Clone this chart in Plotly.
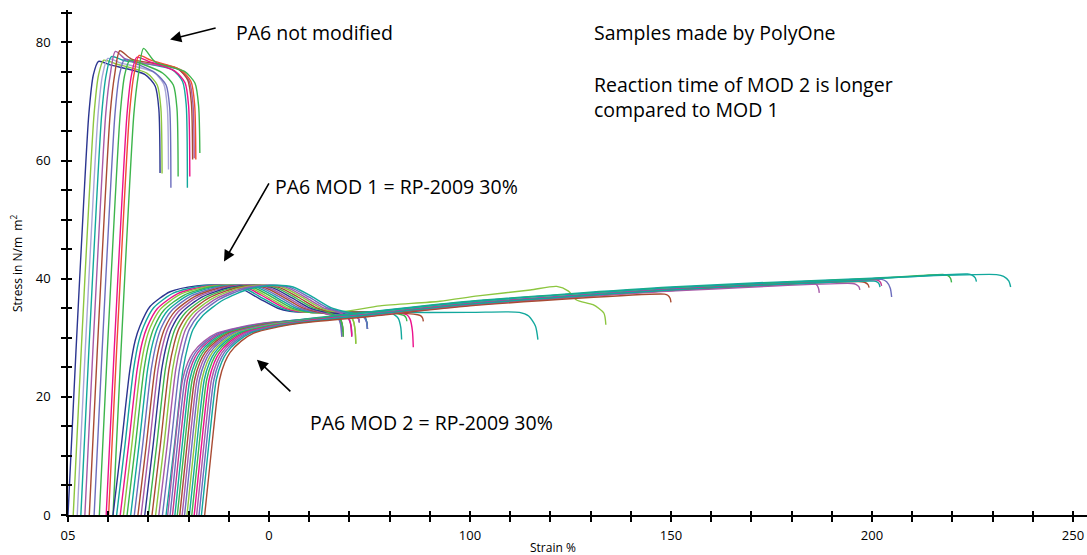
import plotly.graph_objects as go

# ---------------- palette ----------------
DB = "#2b3590"; YG = "#8cc63f"; LV = "#a9a6d8"; TL = "#12a89d"; PU = "#a65aa8"
BR = "#a94b33"; SL = "#6c6dbd"; GR = "#3db54b"; MG = "#ec118c"; RD = "#f04e31"

# ---------------- axis ticks ----------------
X_TICKS = [0, 10, 20, 30, 40, 50, 60, 70, 80, 90, 100, 110, 120, 130, 140, 150,
           160, 170, 180, 190, 200, 210, 220, 230, 240, 250]
X_LABELS = {0: "05", 50: "0", 100: "100", 150: "150", 200: "200", 250: "250"}
Y_TICKS = [0, 5, 10, 15, 20, 25, 30, 35, 40, 45, 50, 55, 60, 65, 70, 75, 80, 85]
Y_LABELS = {0: "0", 20: "20", 40: "40", 60: "60", 80: "80"}

# ---------------- group 1 : PA6 not modified ----------------
G1_COLORS = [DB, YG, LV, TL, PU, BR, SL, GR, MG, RD, GR]
G1_START = [0.0, 1.3, 2.3, 3.2, 4.2, 5.3, 6.5, 7.8, 9.5, 10.1, 11.2]
G1_PEAK = [76.8, 77.0, 77.3, 77.6, 78.5, 78.6, 77.2, 77.0, 77.5, 77.8, 79.0]
G1_PLAT = [76.2, 76.4, 76.6, 77.0, 77.0, 77.2, 76.4, 76.4, 76.8, 77.0, 76.7]
G1_BREAK = [22.9, 23.4, 25.0, 29.7, 31.4, 31.0, 25.6, 27.4, 30.3, 31.8, 32.8]
G1_END = [57.9, 57.8, 58.5, 55.4, 60.4, 60.2, 55.4, 57.3, 57.3, 60.2, 61.3]
G1_RISE_DX = [0.0, 2.0, 3.9, 5.2, 6.3]
G1_RISE_Y = [0.0, 28.0, 53.0, 68.0, 74.5]
G1_PEAK_DX = 7.6
G1_PLAT_DX = 10.5
G1_TAIL_DX = [-3.8, -1.2, -0.3]
G1_TAIL_DY = [-1.6, -3.6, -7.5]

# ---------------- group 2 : PA6 MOD 1 ----------------
G2_COLORS = [DB, TL, MG, YG, GR, TL, SL, BR, PU, DB, GR, BR, YG, PU, SL, TL]
G2_START = [11.2, 12.1, 13.0, 13.8, 14.7, 15.6, 16.5, 17.4, 18.2, 19.1, 20.0,
            20.9, 21.8, 22.6, 23.5, 24.4]
G2_SOFT = [0.0, 0.15, 0.25, 0.3, 0.4, 0.45, 0.5, 0.55, 0.6, 0.65, 0.7, 0.75,
           0.8, 0.85, 0.9, 1.0]
G2_BREAK = [74.5, 83.0, 85.9, 71.6, 84.3, 116.9, 70.6, 68.5, 68.1, 72.5, 68.3,
            88.4, None, 70.6, 72.5, 74.5]
G2_KNEE = [33.9, 33.8, 33.9, 33.6, 33.9, 34.3, 33.5, 33.5, 33.5, 33.7, 33.5,
           33.9, None, 33.6, 33.7, 33.9]
G2_END = [31.5, 29.7, 28.4, 29.0, 32.8, 29.7, 30.2, 30.2, 30.2, 32.6, 31.0,
          32.8, None, 30.5, 32.6, 31.5]
G2_HOOKW = [1.4, 1.6, 1.6, 1.3, 1.3, 4.6, 1.3, 1.2, 1.2, 1.2, 1.2, 1.4, None,
            1.2, 1.2, 1.4]
G2_RISE_DX = [0.0, 2.1, 4.2, 5.5, 6.7, 9.2, 14.2, 20.8, 27.0, 31.6, 36.5, 41.0, 44.0]
G2_STIFF_Y = [0.0, 12.0, 24.6, 29.5, 32.0, 35.3, 37.8, 38.8, 38.9, 38.4, 36.6, 35.0, 34.5]
G2_SOFTY = [0.0, 12.0, 24.6, 28.8, 31.4, 33.8, 36.4, 38.3, 38.9, 38.6, 36.9, 35.1, 34.5]
G2_FLAT_X = [60.0, 80.0, 100.0]
G2_FLAT_Y = [34.3, 34.3, 34.3]
# the strain-hardening sample of MOD 1 (yellow-green)
G2_SPECIAL_X = [69.3, 77.6, 92.5, 102.0, 115.0, 121.6, 124.5, 126.5, 130.6, 133.3, 133.8]
G2_SPECIAL_Y = [34.5, 35.4, 36.2, 37.1, 38.1, 38.7, 37.9, 36.4, 35.6, 34.2, 32.2]

# ---------------- group 3 : PA6 MOD 2 ----------------
G3_COLORS = [PU, SL, "#c2378f", TL, GR, BR, PU, SL, YG, TL, GR, MG, PU, SL, TL, BR]
G3_START = [24.8, 25.4, 26.0, 26.6, 27.2, 27.8, 28.4, 29.0, 29.6, 30.2, 30.8,
            31.4, 32.0, 32.6, 33.2, 34.0]
G3_LEV = [-0.1, 0.2, 0.1, 0.5, 0.4, -0.1, -0.2, -0.3, -0.4, 0.4, -0.3, -0.4,
          -0.3, -0.2, 0.0, -0.3]
G3_BREAK = [186.9, 204.9, 202.4, 234.5, 219.8, 199.3, 197.0, 68.1, 71.6, 226.0,
            68.5, 70.6, 72.5, 74.5, 202.0, 150.0]
G3_KNEE = [39.3, 39.9, 39.8, 40.7, 40.7, 39.5, 39.2, 33.4, 33.5, 40.8, 33.4,
           33.5, 33.6, 33.6, 39.6, 37.4]
G3_END = [37.6, 36.9, 38.8, 38.6, 39.4, 38.5, 38.1, 30.2, 29.0, 39.5, 30.2,
          30.2, 32.6, 31.5, 38.6, 36.0]
G3_HOOKW = [1.6, 2.5, 1.5, 3.5, 1.8, 2.0, 2.0, 1.2, 1.3, 2.2, 1.2, 1.3, 1.2,
            1.4, 1.5, 1.6]
G3_RISE_DX = [0.0, 2.2, 3.7, 5.0, 6.3, 9.0, 12.2, 18.0, 24.0]
G3_RISE_Y = [0.0, 14.4, 22.9, 25.8, 27.5, 29.4, 30.8, 31.8, 32.5]
G3_TAIL_X = [75.0, 100.0, 150.0, 200.0, 240.0]
G3_TAIL_Y = [33.9, 35.7, 38.1, 39.6, 40.7]

# shape of the small hook at fracture (fractions of hook width / drop)
HOOK_FX = [1.0, 0.5, 0.134, 0.0]
HOOK_FY = [0.0, 0.134, 0.5, 1.0]


def add_hook(xs, ys, sb, kn, yb, w):
    for fx, fy in zip(HOOK_FX, HOOK_FY):
        xs.append(sb - fx * w)
        ys.append(kn - fy * (kn - yb))


traces = []


def line(xs, ys, color):
    traces.append(go.Scatter(x=xs, y=ys, mode="lines",
                             line=dict(color=color, width=1.4, shape="spline", smoothing=0.7),
                             showlegend=False, hoverinfo="skip"))


# group 1
for i in range(len(G1_START)):
    s0 = G1_START[i]
    xs = [s0 + d for d in G1_RISE_DX]
    ys = list(G1_RISE_Y)
    xs += [s0 + G1_PEAK_DX, s0 + G1_PLAT_DX]
    ys += [G1_PEAK[i], G1_PLAT[i]]
    for dx, dy in zip(G1_TAIL_DX, G1_TAIL_DY):
        xs.append(G1_BREAK[i] + dx)
        ys.append(G1_PLAT[i] + dy)
    xs.append(G1_BREAK[i])
    ys.append(G1_END[i])
    line(xs, ys, G1_COLORS[i])

# group 2
for i in range(len(G2_START)):
    s0 = G2_START[i]
    wt = G2_SOFT[i]
    xs = [s0 + d for d in G2_RISE_DX]
    ys = [a * (1 - wt) + b * wt for a, b in zip(G2_STIFF_Y, G2_SOFTY)]
    if G2_BREAK[i] is None:
        xs += G2_SPECIAL_X
        ys += G2_SPECIAL_Y
    else:
        sb, w = G2_BREAK[i], G2_HOOKW[i]
        for fx, fy in zip(G2_FLAT_X, G2_FLAT_Y):
            if xs[-1] + 1.0 < fx < sb - w - 1.0:
                xs.append(fx)
                ys.append(fy)
        add_hook(xs, ys, sb, G2_KNEE[i], G2_END[i], w)
    line(xs, ys, G2_COLORS[i])

# group 3
for i in range(len(G3_START)):
    s0 = G3_START[i]
    xs = [s0 + d for d in G3_RISE_DX]
    ys = list(G3_RISE_Y)
    sb, w = G3_BREAK[i], G3_HOOKW[i]
    for tx, ty in zip(G3_TAIL_X, G3_TAIL_Y):
        if xs[-1] + 1.0 < tx < sb - w - 1.0:
            xs.append(tx)
            ys.append(ty + G3_LEV[i])
    add_hook(xs, ys, sb, G3_KNEE[i], G3_END[i], w)
    line(xs, ys, G3_COLORS[i])

# invisible helpers for the inner half of the crossing tick marks
traces.append(go.Scatter(x=[None], y=[None], xaxis="x2", yaxis="y", showlegend=False, hoverinfo="skip"))
traces.append(go.Scatter(x=[None], y=[None], xaxis="x", yaxis="y2", showlegend=False, hoverinfo="skip"))

fig = go.Figure(traces)

FONT = "Open Sans, Lato, sans-serif"
XR = [0, 253.5]
YR = [0, 85.5]

fig.update_layout(
    width=1087, height=555,
    margin=dict(l=68, r=0, t=10, b=40, autoexpand=False),
    plot_bgcolor="white", paper_bgcolor="white",
    font=dict(family=FONT, color="black"),
    xaxis=dict(range=XR, tickmode="array", tickvals=X_TICKS,
               ticktext=[X_LABELS.get(v, "") for v in X_TICKS],
               ticks="outside", ticklen=5, tickwidth=1.5, tickcolor="black",
               showline=True, linewidth=1.5, linecolor="black",
               showgrid=False, zeroline=False, tickfont=dict(size=13),
               ticklabelstandoff=3, automargin=False),
    xaxis2=dict(range=XR, overlaying="x", anchor="y", side="bottom",
                tickmode="array", tickvals=X_TICKS, ticks="inside", ticklen=4,
                tickwidth=1.5, tickcolor="black", showticklabels=False,
                showline=False, showgrid=False, zeroline=False, automargin=False),
    yaxis=dict(range=YR, tickmode="array", tickvals=Y_TICKS,
               ticktext=[Y_LABELS.get(v, "") for v in Y_TICKS],
               ticks="outside", ticklen=5, tickwidth=1.5, tickcolor="black",
               showline=True, linewidth=1.5, linecolor="black",
               showgrid=False, zeroline=False, tickfont=dict(size=13),
               ticklabelstandoff=8, automargin=False),
    yaxis2=dict(range=YR, overlaying="y", anchor="x", side="left",
                tickmode="array", tickvals=Y_TICKS, ticks="inside", ticklen=4,
                tickwidth=1.5, tickcolor="black", showticklabels=False,
                showline=False, showgrid=False, zeroline=False, automargin=False),
)

TXT = dict(size=19.5, family=FONT, color="black")
ann = [
    dict(x=41.3, y=81.7, text="PA6 not modified", xanchor="left", yanchor="middle"),
    dict(x=51.0, y=55.6, text="PA6 MOD 1 = RP-2009 30%", xanchor="left", yanchor="middle"),
    dict(x=59.7, y=15.6, text="PA6 MOD 2 = RP-2009 30%", xanchor="left", yanchor="middle"),
    dict(x=130.3, y=81.7, text="Samples made by PolyOne", xanchor="left", yanchor="middle"),
    dict(x=130.3, y=70.8, text="Reaction time of MOD 2 is longer<br>compared to MOD 1",
         xanchor="left", yanchor="middle", align="left"),
]
for a in ann:
    fig.add_annotation(xref="x", yref="y", showarrow=False, font=TXT, **a)

ARROWS = [
    (25.4, 80.5, 37.1, 82.5),
    (38.8, 42.9, 50.2, 56.4),
    (47.0, 26.3, 55.7, 20.7),
]
for hx, hy, tx, ty in ARROWS:
    fig.add_annotation(x=hx, y=hy, ax=tx, ay=ty, xref="x", yref="y", axref="x", ayref="y",
                       text="", showarrow=True, arrowhead=2, arrowsize=1.4,
                       arrowwidth=1.6, arrowcolor="black")

fig.add_annotation(x=0.476, y=-0.065, xref="paper", yref="paper", text="Strain %",
                   showarrow=False, xanchor="center", yanchor="middle",
                   font=dict(size=12, family=FONT, color="black"))
fig.add_annotation(x=-0.05, y=0.497, xref="paper", yref="paper",
                   text="Stress in N/m\u00a0 m<sup>2</sup>",
                   showarrow=False, textangle=-90, xanchor="center", yanchor="middle",
                   font=dict(size=12, family=FONT, color="black"))

fig.write_html("out.html", config={"displayModeBar": False},
               post_script="document.body.style.margin='0';document.body.style.overflow='hidden';")
